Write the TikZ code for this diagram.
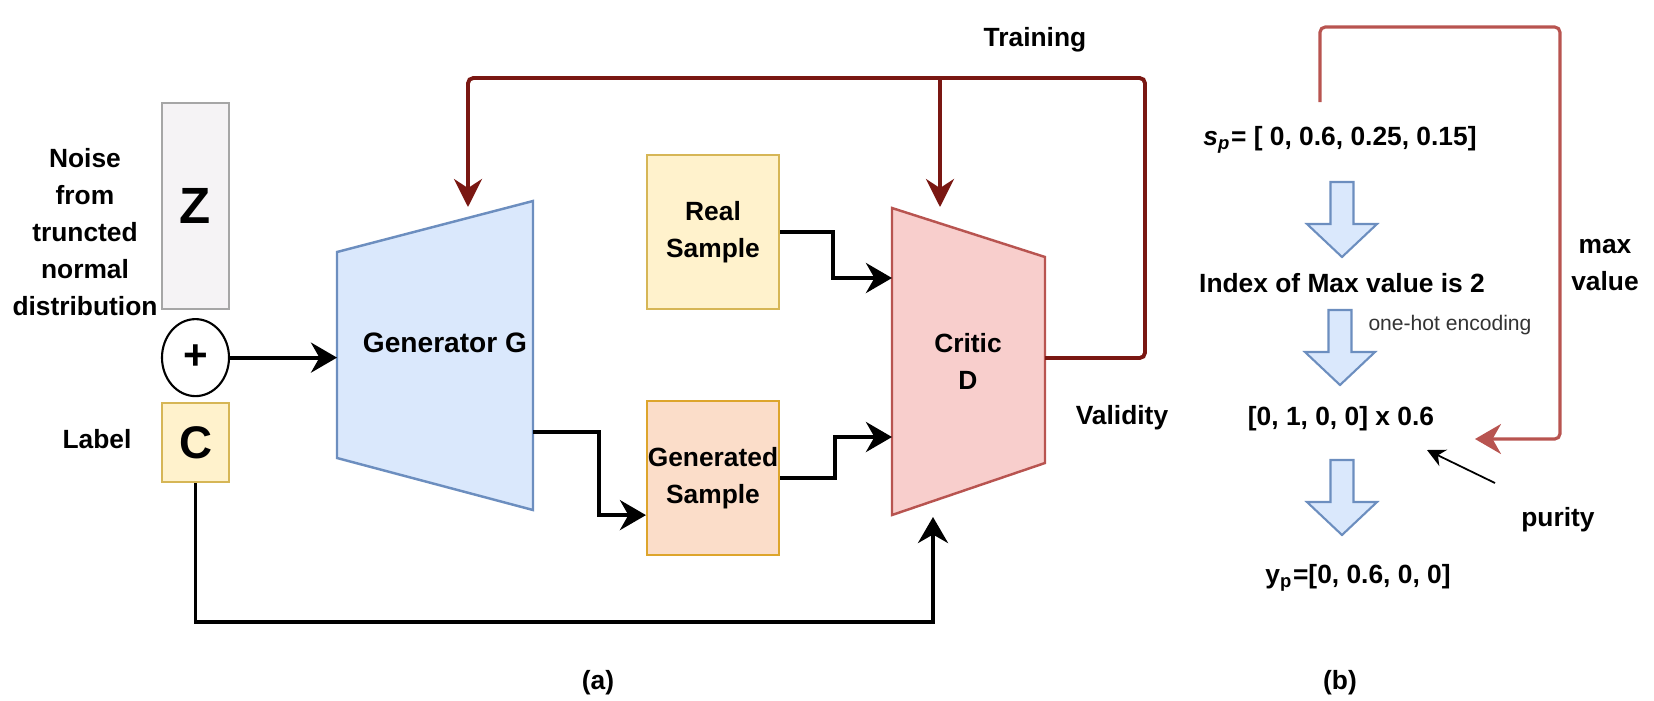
\documentclass[tikz,border=0pt]{standalone}
\usepackage{fontspec}
\setmainfont{Liberation Sans}
\usepackage{xcolor}
\usepackage{tikz}
\usetikzlibrary{arrows.meta,positioning,shapes.geometric,calc}
\definecolor{trainbrown}{HTML}{7A1712}
\definecolor{maxred}{HTML}{B85450}
\definecolor{genblue}{HTML}{DAE8FC}
\definecolor{blueedge}{HTML}{6C8EBF}
\definecolor{critpink}{HTML}{F8CECC}
\definecolor{realfill}{HTML}{FFF2CC}
\definecolor{realedge}{HTML}{D6B656}
\definecolor{fakefill}{HTML}{FBDDC9}
\definecolor{fakeedge}{HTML}{DDA52C}
\definecolor{noisefill}{HTML}{F5F3F5}

\begin{document}
\begin{tikzpicture}[
  x=0.1mm,y=-0.1mm,
  every node/.style={font=\bfseries\fontsize{7.5}{10.5}\selectfont,align=center},
  sample/.style={draw=realedge,fill=realfill,line width=0.6pt,minimum width=13.2mm,minimum height=15.4mm,inner sep=0pt},
  fake/.style={sample,draw=fakeedge,fill=fakefill},
  letterbox/.style={draw=realedge,fill=realfill,line width=0.6pt,minimum width=6.7mm,inner sep=0pt,font=\bfseries\fontsize{13}{13}\selectfont},
  sumnode/.style={ellipse,draw,fill=white,line width=0.6pt,minimum width=6.7mm,minimum height=7.7mm,inner sep=0pt,font=\bfseries\fontsize{12}{12}\selectfont},
  genshape/.style={draw=blueedge,fill=genblue,line width=0.7pt},
  critshape/.style={draw=maxred,fill=critpink,line width=0.7pt},
  blockshape/.style={draw=blueedge,fill=genblue,line width=0.6pt},
  line/.style={-{Stealth[length=2.6mm,width=3mm]},line width=1.1pt},
  loop/.style={-{Stealth[length=2.8mm,width=2.8mm]},line width=1.1pt,draw=trainbrown,rounded corners=1.5pt},
  maxline/.style={-{Stealth[length=2.6mm,width=3mm]},line width=0.9pt,draw=maxred,rounded corners=1.5pt},
  thinline/.style={-{Stealth[length=1.8mm,width=1.8mm]},line width=0.5pt},
  blockarrow/.pic={\draw[blockshape] (-11.5,0) -- (11.5,0) -- (11.5,42) -- (35,42) -- (0,75) -- (-35,42) -- (-11.5,42) -- cycle;}
]
\useasboundingbox (0,0) rectangle (1654,700);

\node[letterbox,draw=gray!70,fill=noisefill,minimum height=20.6mm,font=\bfseries\fontsize{14.5}{14.5}\selectfont] (zbox) at (195.5,206) {Z};
\node[sumnode,below=0.8mm of zbox] (plus) {+};
\node[letterbox,below=0.5mm of plus,minimum height=7.9mm] (cbox) {C};
\node (noise) at (85,232) {Noise\\from\\truncted\\normal\\distribution};
\node (lab) at (97,439) {Label};

\draw[genshape] (337,252) -- (533,201) -- (533,510) -- (337,458) -- cycle;
\node[font=\bfseries\fontsize{8}{10.5}\selectfont] (gen) at (445,343) {Generator G};
\coordinate (genW) at (337,355.5);
\coordinate (genE) at (533,432);
\coordinate (genN) at (468,207);

\node[sample] (rsamp) at (713,232) {Real\\Sample};
\node[fake,below=9mm of rsamp] (gsamp) {Generated\\Sample};

\draw[critshape] (892,208) -- (1045,257) -- (1045,463) -- (892,515) -- cycle;
\node (crit) at (968,361) {Critic\\D};
\coordinate (critW1) at (892,278);
\coordinate (critW2) at (892,437);
\coordinate (critS) at (933,517);
\coordinate (critN) at (940,207);
\coordinate (critE) at (1045,358);
\coordinate (topR) at (1145,78);

\node (trainlbl) at (1035,40) {Training};
\node (valid) at (1122,418) {Validity};
\node (taga) at (598,683) {(a)};

\draw[line] (plus) -- (plus -| genW);
\draw[line] (genE) -- ++(66,0) |- ($(gsamp.west)+(0,37)$);
\draw[line] (rsamp.east) -- ++(53,0) |- (critW1);
\draw[line] (gsamp.east) -- ++(55,0) |- (critW2);
\draw[line] (cbox.south) -- ++(0,139) -| (critS);
\draw[loop] (critE) -| (topR) -| (genN);
\draw[loop] (critN |- topR) -- (critN);

\node (sp) at (1340,140) {\textit{s}\textsubscript{\textit{p}}= [ 0, 0.6, 0.25, 0.15]};
\node (idx) at (1342,283) {Index of Max value is 2};
\node[font=\fontsize{6}{7}\selectfont,text=black!80] (onehot) at (1450,325) {one-hot encoding};
\node (mult) at (1341,419) {[0, 1, 0, 0] x 0.6};
\node (yp) at (1358,578) {y\textsubscript{p}=[0, 0.6, 0, 0]};
\node (maxv) at (1605,265) {max\\value};
\node (purity) at (1558,520) {purity};
\node (tagb) at (1340,683) {(b)};

\pic at (1342,182) {blockarrow};
\pic at (1340,310) {blockarrow};
\pic at (1342,460) {blockarrow};

\coordinate (spTop) at (1320,102);
\coordinate (redTR) at (1560,27);
\coordinate (maxTip) at (1475,439);
\coordinate (pfrom) at (1495,483);
\coordinate (pto) at (1427,450);
\draw[maxline] (spTop) |- (redTR) |- (maxTip);
\draw[thinline] (pfrom) -- (pto);
\end{tikzpicture}
\end{document}
